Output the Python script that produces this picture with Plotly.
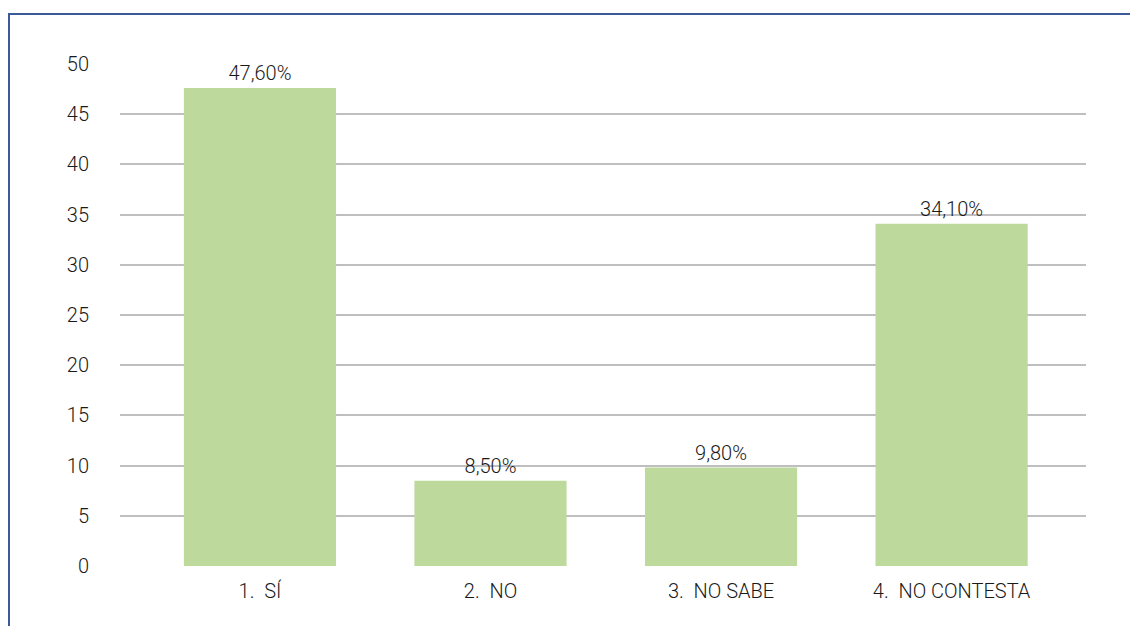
import plotly.graph_objects as go

categories = ["1.  SÍ", "2.  NO", "3.  NO SABE", "4.  NO CONTESTA"]
values = [47.6, 8.5, 9.8, 34.1]
y_ticks = [0, 5, 10, 15, 20, 25, 30, 35, 40, 45, 50]

labels = [f"{v:.2f}".replace(".", ",") + "%" for v in values]

W, H = 1130, 626
L, R, T, B = 120, 44, 64, 60
pw, ph = W - L - R, H - T - B
FONT = "Roboto, Arial, sans-serif"

fig = go.Figure(go.Bar(
    x=list(range(len(categories))), y=values, text=labels,
    textposition="outside", cliponaxis=False,
    textfont=dict(size=20, color="#1a1a1a", family=FONT, weight=300),
    marker=dict(color="#bdd99b", line=dict(width=0)),
    width=0.66,
))

fig.update_layout(
    width=W, height=H,
    margin=dict(l=L, r=R, t=T, b=B),
    paper_bgcolor="white", plot_bgcolor="white",
    font=dict(family=FONT, size=20, color="#1a1a1a", weight=300),
    showlegend=False,
    xaxis=dict(
        tickmode="array", tickvals=list(range(len(categories))), ticktext=categories,
        range=[-0.607, 3.583], showgrid=False, zeroline=False, showline=False,
        ticks="", ticklabelstandoff=11,
        tickfont=dict(size=20, color="#1a1a1a", family=FONT, weight=300),
    ),
    yaxis=dict(
        range=[0, 50], tickvals=y_ticks, showgrid=True, gridcolor="#bfbfbf", gridwidth=2,
        zeroline=False, showline=False, ticks="", ticklabelstandoff=30,
        tickfont=dict(size=20, color="#1a1a1a", family=FONT, weight=300),
    ),
    shapes=[dict(
        type="rect", xref="paper", yref="paper",
        x0=(9 - L) / pw, x1=1.2, y0=-0.5, y1=(H - B - 14) / ph,
        line=dict(color="#3a5a9a", width=2), fillcolor="rgba(0,0,0,0)", layer="above",
    )],
)

fig.write_html("out.html")
